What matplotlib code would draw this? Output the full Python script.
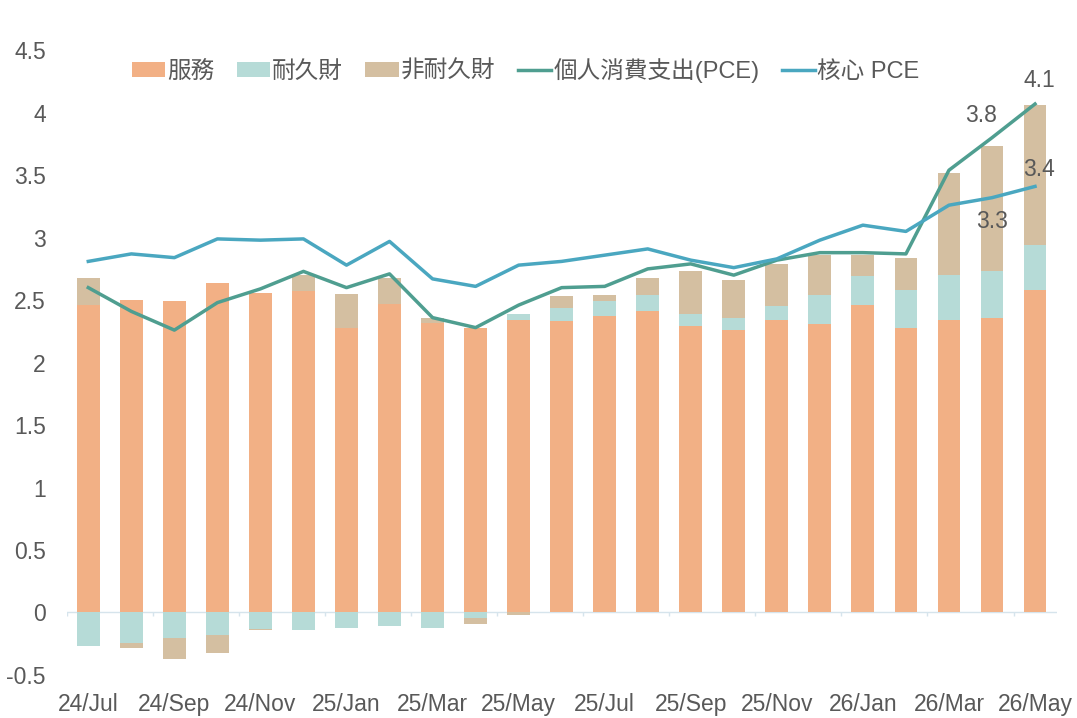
import matplotlib
matplotlib.use("Agg")
import matplotlib.pyplot as plt
import numpy as np

plt.rcParams['font.family'] = ['Liberation Sans', 'Noto Sans CJK TC', 'DejaVu Sans']

# ============================================================
# Data
# ============================================================
months = ["24/Jul", "24/Aug", "24/Sep", "24/Oct", "24/Nov", "24/Dec",
          "25/Jan", "25/Feb", "25/Mar", "25/Apr", "25/May", "25/Jun",
          "25/Jul", "25/Aug", "25/Sep", "25/Oct", "25/Nov", "25/Dec",
          "26/Jan", "26/Feb", "26/Mar", "26/Apr", "26/May"]

services = [2.46, 2.50, 2.49, 2.64, 2.56, 2.57, 2.28, 2.47, 2.32, 2.28, 2.34, 2.33,
            2.37, 2.41, 2.29, 2.26, 2.34, 2.31, 2.46, 2.28, 2.34, 2.36, 2.58]
durable = [-0.27, -0.245, -0.205, -0.18, -0.13, -0.14, -0.125, -0.11, -0.125, -0.045, 0.05, 0.11,
           0.12, 0.13, 0.10, 0.10, 0.11, 0.23, 0.23, 0.30, 0.36, 0.37, 0.36]
nondurable = [0.22, -0.04, -0.17, -0.145, -0.01, 0.13, 0.27, 0.21, 0.04, -0.05, -0.02, 0.09,
              0.05, 0.14, 0.34, 0.30, 0.34, 0.32, 0.17, 0.26, 0.82, 1.00, 1.12]

pce = [2.60, 2.41, 2.26, 2.48, 2.59, 2.73, 2.60, 2.71, 2.36, 2.28, 2.46, 2.60,
       2.61, 2.75, 2.79, 2.70, 2.82, 2.88, 2.88, 2.87, 3.54, 3.80, 4.07]
core_pce = [2.81, 2.87, 2.84, 2.99, 2.98, 2.99, 2.78, 2.97, 2.67, 2.61, 2.78, 2.81,
            2.86, 2.91, 2.82, 2.76, 2.83, 2.98, 3.10, 3.05, 3.26, 3.32, 3.41]

# (series, index, text, x offset pt, y offset pt)
point_labels = [("pce", 22, "4.1", 3, 17),
                ("pce", 21, "3.8", -8, 16),
                ("core", 22, "3.4", 3, 12),
                ("core", 21, "3.3", 0, -17)]

# ============================================================
# Plot
# ============================================================
c_serv = "#f2b085"
c_dur = "#b6dbd7"
c_nondur = "#d4bfa1"
c_pce = "#4f9e90"
c_core = "#4aa7c0"
c_text = "#595959"

fig = plt.figure(figsize=(10.77, 7.18), dpi=100)
ax = fig.add_axes([0.062, 0.06, 0.919, 0.87])

x = np.arange(len(months))
serv = np.array(services)
dur = np.array(durable)
nd = np.array(nondurable)

pos_base = np.maximum(serv, 0)
neg_base = np.minimum(serv, 0)
w = 0.53

b1 = ax.bar(x, serv, w, color=c_serv, label="服務", zorder=2)

dur_bottom = np.where(dur >= 0, pos_base, neg_base)
b2 = ax.bar(x, dur, w, bottom=dur_bottom, color=c_dur, label="耐久財", zorder=2)
pos_base = pos_base + np.maximum(dur, 0)
neg_base = neg_base + np.minimum(dur, 0)

nd_bottom = np.where(nd >= 0, pos_base, neg_base)
b3 = ax.bar(x, nd, w, bottom=nd_bottom, color=c_nondur, label="非耐久財", zorder=2)

l1, = ax.plot(x, pce, color=c_pce, lw=2.5, label="個人消費支出(PCE)", zorder=3)
l2, = ax.plot(x, core_pce, color=c_core, lw=2.5, label="核心 PCE", zorder=3)

series = {"pce": pce, "core": core_pce}
for key, i, txt, dx, dy in point_labels:
    ax.annotate(txt, (x[i], series[key][i]), xytext=(dx, dy), textcoords="offset points",
                ha="center", va="center", fontsize=16.5, color=c_text)

# zero line with small category ticks
ax.axhline(0, color="#d6e4ec", lw=1, zorder=1)
ax.vlines(np.arange(-0.5, len(months), 2), -0.03, 0, color="#d6e4ec", lw=1, zorder=1)

ax.set_xlim(-0.5, len(months) - 0.5)
ax.set_ylim(-0.5, 4.5)
yt = np.arange(-0.5, 4.51, 0.5)
ax.set_yticks(yt)
ax.set_yticklabels([f"{v:g}" for v in yt])
ax.set_xticks(x[::2])
ax.set_xticklabels(months[::2])
ax.tick_params(axis="both", length=0, labelsize=16.5, colors=c_text)
ax.tick_params(axis="y", pad=15)
ax.tick_params(axis="x", pad=13)
for s in ax.spines.values():
    s.set_visible(False)

fig.legend([b1, b2, b3, l1, l2], [h.get_label() for h in [b1, b2, b3, l1, l2]],
           loc="center", bbox_to_anchor=(0.488, 0.902), ncol=5, frameon=False,
           fontsize=17, labelcolor=c_text, handlelength=1.4, handleheight=0.6,
           handletextpad=0.1, columnspacing=0.95)

fig.savefig("out.png", dpi=100)
plt.close(fig)
